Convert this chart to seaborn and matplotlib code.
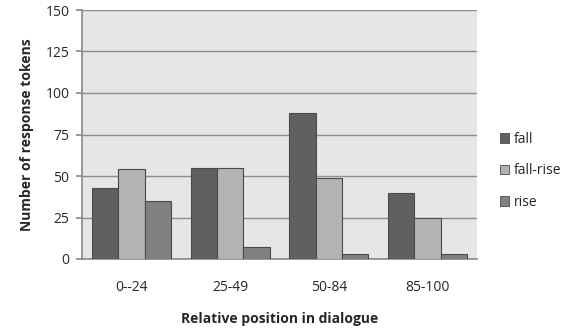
import matplotlib
matplotlib.use("Agg")
import matplotlib.pyplot as plt
import seaborn as sns
import pandas as pd
from matplotlib.patches import Patch

categories = ["0--24", "25-49", "50-84", "85-100"]
series = ["fall", "fall-rise", "rise"]
fall = [43, 55, 88, 40]
fall_rise = [54, 55, 49, 25]
rise = [35, 7, 3, 3]
yticks = [0, 25, 50, 75, 100, 125, 150]

colors = {"fall": "#606060", "fall-rise": "#b3b3b3", "rise": "#808080"}

rows = []
for s, vals in zip(series, [fall, fall_rise, rise]):
    for c, v in zip(categories, vals):
        rows.append({"cat": c, "series": s, "val": v})
df = pd.DataFrame(rows)

sns.set_theme(style="white")
plt.rcParams["font.family"] = ["Open Sans", "DejaVu Sans"]

fig = plt.figure(figsize=(5.74, 3.31), dpi=100)
ax = fig.add_axes([82/574, 1 - 259/331, (477-82)/574, (259-10)/331])
ax.set_facecolor("#e6e6e6")
sns.barplot(data=df, x="cat", y="val", hue="series", palette=colors,
            order=categories, hue_order=series, width=0.8, gap=0,
            edgecolor="#4a4a4a", linewidth=0.8, ax=ax, legend=False, zorder=3)
ax.set_ylim(0, 150)
ax.set_yticks(yticks)
ax.set_axisbelow(True)
ax.yaxis.grid(True, color="#8c8c8c", linewidth=1.0)
for side in ["top", "right"]:
    ax.spines[side].set_visible(False)
ax.spines["left"].set_color("#8c8c8c")
ax.spines["bottom"].set_color("#8c8c8c")
ax.tick_params(axis="y", length=4, color="#8c8c8c", labelsize=10, pad=5, left=True)
ax.tick_params(axis="x", length=0, labelsize=10, pad=15)
ax.set_xlabel("Relative position in dialogue", fontsize=10, fontweight="bold", labelpad=12)
ax.set_ylabel("Number of response tokens", fontsize=10, fontweight="bold", labelpad=8)

handles = [Patch(facecolor=colors[s], edgecolor="#4a4a4a", linewidth=0.6, label=s) for s in series]
fig.legend(handles=handles, loc="center left", bbox_to_anchor=(494/574, 1 - 171/331),
           frameon=False, fontsize=10, handlelength=0.7, handleheight=0.7,
           handletextpad=0.3, labelspacing=1.2, borderaxespad=0)

fig.savefig("out.png", dpi=100)
